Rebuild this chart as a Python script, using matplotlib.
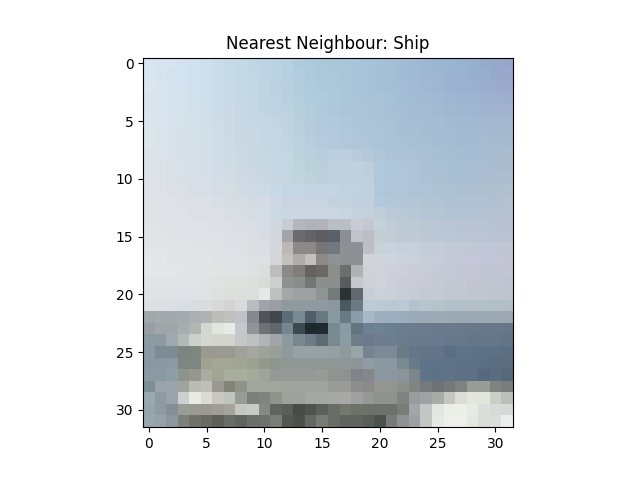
import matplotlib
matplotlib.use("Agg")
import matplotlib.pyplot as plt
import numpy as np

TITLE = "Nearest Neighbour: Ship"

# 32x32 RGB pixels, one string per image row
PIXEL_ROWS = [
    "d8e6f2 d6e4f0 d4e4f0 d2e2ee d0e0ee cedeec cadcea c6dae8 c4d8e6 c0d6e4 bed4e4 bad2e2 b6d0e0 b0ccdc accadc aac8da "
    "a8c8d8 a8c6d8 a8c4d8 a6c2d8 a6c0d8 a4bed6 a2bcd6 a0bad4 9eb8d4 9cb6d2 9ab4d2 98b2d0 96b0ce 96accc 96a8cc 98a6cc",
    "d8e6f2 d6e4f0 d4e2ee d2e2ee d0e0ec cedeec cadcea c8dae8 c4d8e6 c2d6e4 bed4e2 bad2e2 b6d0e0 b2cedc accadc aac8da "
    "aac8d8 a8c6d8 a8c4d8 a8c2d8 a6c0d8 a4bed6 a2bcd6 a0bad4 9eb8d4 9eb6d2 9cb4d2 9ab2d0 98b0ce 98aecc 98aacc 9aa8cc",
    "dae6f0 d8e4f0 d6e2ee d2e2ee d0e0ec cedeea cadce8 c8dae8 c6d8e6 c2d6e4 c0d4e2 bcd2e2 b8d0e0 b2cedc aecadc acc8da "
    "aac8d8 aac6d8 a8c4d8 a8c2d8 a6c0d6 a4bed6 a4bcd6 a2bad4 a0b8d4 9eb6d2 9cb4d2 9ab2d0 9ab2d0 9aaece 9aacce 9caace",
    "dae4ee d8e4ee d6e2ee d4e2ec d0e0ec cedeea ccdce8 c8dae8 c6d8e6 c4d6e4 c0d4e2 bed2e2 bad0e0 b4cede b0ccdc aecadc "
    "acc8da aac6d8 aac4d8 a8c2d8 a8c2d6 a6c0d6 a4bed6 a2bcd4 a2bad4 a0b8d4 9eb6d2 9cb6d2 9cb4d2 9cb2d0 9cb0d0 9eaece",
    "dae4ee d8e4ee d6e2ec d4e2ec d2e0ea d0dee8 ccdce8 cadae6 c8d8e6 c4d6e4 c2d4e2 c0d2e2 bcd2e0 b6d0de b2ccdc b0cadc "
    "aec8da acc6d8 acc4d8 aac4d8 aac2d8 a8c0d6 a6bed6 a4bcd4 a4bcd4 a2bad4 a0b8d2 9eb8d2 9eb6d2 9eb4d0 a0b4d0 a2b2d0",
    "dce4ee dae4ec d8e2ec d6e2ea d4e0ea d0dee8 cedce8 ccdae6 c8d8e6 c6d6e4 c4d6e2 c2d4e2 bed2e0 b8d0de b4ccdc b2cadc "
    "b0cada aec8da acc6d8 acc4d8 aac2d8 a8c2d6 a8c0d6 a6bed4 a6bed4 a4bcd4 a2bad2 a0bad2 a0b8d2 a2b8d0 a2b6d0 a4b6d0",
    "dce4ec dae2ec d8e2ea d6e0ea d4e0e8 d2dee8 d0dce6 ccdae6 cad8e4 c8d8e4 c6d6e2 c4d6e2 c0d4e0 bad0de b6ccdc b4cadc "
    "b2cada b0c8da aec6d8 acc6d8 aac4d8 aac2d6 a8c0d6 a8c0d4 a6bed4 a6bed4 a4bcd4 a2bad2 a2bad2 a4bad2 a4b8d0 a6b8d0",
    "dce4ec dae2ea d8e2ea d6e0e8 d4e0e8 d2dee8 d0dce6 cedce6 cad8e4 c8d8e4 c6d6e2 c4d6e2 c2d4e0 bcd2de b8cedc b6ccdc "
    "b4cada b2c8da b0c6d8 aec6d8 acc4d8 aac4d6 aac2d6 a8c0d4 a8c0d4 a6bed4 a6bed4 a4bcd2 a4bcd2 a6bcd2 a6bad0 a8bad0",
    "dce2ea dae2ea d8e2e8 d6e0e8 d6e0e8 d4dee6 d0dce6 cedce6 ccdae4 cad8e4 c8d8e2 c6d6e2 c4d6e0 bed2de bad0dc b8cedc "
    "bccfe0 bccfde b8ccdc b4c8da aec6d8 acc4d6 acc2d6 aac2d4 aac0d4 a8c0d4 a8bed4 a6bed2 a6bcd2 a8bcd2 a8bcd0 aabcd0",
    "dee2ea dce2e8 dae0e8 d8e0e8 d6dee6 d4dee6 d2dce6 d0dce4 ccdae4 cad8e4 c8d8e2 c6d6e2 c4d6e0 c0d4de bcd0dc bacedc "
    "bed0de c0d0dc c0d0dc bccedc b0c8da aec6d8 aec6d8 aec4d6 aac0d4 aac0d4 a8c0d2 a8bed2 a8bed2 aabed2 aabcd0 acbcd0",
    "dee2e8 dce2e8 dae0e8 d8e0e6 d8dee6 d6dee6 d4dce6 d2dce4 d0dae4 ccd8e4 cad8e2 c8d6e2 c6d6e0 c2d4de bed2dc bcd0dc "
    "bed0de c0d0dc c0d0dc bed0dc b0c8da aec6d8 aec6d8 aec4d6 acc2d4 acc0d2 aac0d2 aac0d2 aabed2 acbed0 acbed0 aebed0",
    "dee2e8 dee2e8 dce0e6 dae0e6 d8dee6 d8dee6 d6dce4 d4dce4 d2dae4 cedae6 ccdae6 c8d8e6 c4d6e6 c4d6e6 c4d4e2 c4d4e2 "
    "c4d4e2 c0d2e0 c0d2de c0d0de b0c8da b0c6d8 aec6d8 aec4d6 aec4d4 aec2d4 acc2d2 acc0d2 acc0d2 aec0d0 aec0d0 b0c0d0",
    "e0e2e6 dee2e6 dee2e6 dce0e6 dae0e6 dae0e6 d8dee4 d6dee4 d4dce4 d2dae4 d4dce6 ccd8e4 c8d4e2 c8d4e2 c8d4e2 c8d4e2 "
    "c4d2e0 c2d2de c2d0de c0d0de b4cadc b2c8d8 b2c6d8 b2c6d6 b0c4d4 b0c4d4 aec2d4 aec2d2 aec2d2 b0c2d2 b0c0d0 b2c2d0",
    "e0e2e6 e0e2e6 dee2e6 dee2e6 dce0e6 dce0e6 dae0e4 d8dee4 d8dee4 d6dce4 d4dce6 ccd8e2 cad6e2 cad6e2 cad6e2 cad6e2 "
    "cad6e2 c8d4e0 c4d2de c4d0de c0ceda bccad8 b8cad8 b6c8d8 b4c6d6 b4c6d4 b2c4d4 b2c4d4 b2c2d2 b2c2d2 b4c2d2 b4c2d0",
    "e0e2e6 e0e2e6 e0e2e6 dee2e6 dee2e6 dee2e6 dce0e6 dce0e6 dadee4 d8dee4 d8dce4 d0d8e0 c8ccd4 b4b8bc b0b4b8 b0b4b8 "
    "b8c0c4 b8c0c4 c8ccd4 c4c8d0 c4d0da c0ccd8 bccad6 bccad6 bac8d4 bac6d4 b8c6d4 b8c4d2 b8c4d2 b8c4d2 b6c2d0 b6c2d0",
    "e2e4e8 e2e4e8 e0e2e6 e0e2e6 e0e2e6 dee2e6 dee2e6 dce0e6 dce0e4 dadee4 d8dce2 d4d8dc a4a4a8 6c6c70 646468 5e5e62 "
    "5c6068 8c9096 c0c4ca bcbec4 c4ccd4 c2ccd6 c0cad6 c0cad4 bec8d4 bcc8d4 bcc6d4 bac6d2 bac4d2 bac4d2 b8c4d2 b8c2d0",
    "e2e4e8 e2e4e8 e2e4e8 e2e4e6 e0e2e6 e0e2e6 e0e2e6 dee2e6 dee0e4 dcdee2 dcdee2 d4d8dc bcb8b4 8c8a88 8c8a88 767474 "
    "727880 8e9094 8e9094 bcc0c4 c8d0d8 c8d2dc c6d0da c6d0da c4ccd8 c4ccd8 c2cad8 c2cad6 c0c8d6 c0c8d6 c0c6d6 c0c6d4",
    "e4e6e8 e4e6e8 e2e4e8 e2e4e8 e2e4e6 e2e4e6 e0e2e6 e0e2e6 e0e2e4 dee0e4 dde0e4 d4d6da c4c0bc b0aca8 c4c0be 8e8a88 "
    "8e9294 8c9092 8c9092 d0d4d8 d0d4da ccd4de ccd2dc cad0dc c8ced8 c6ccd8 c6cad8 c4c8d8 c4c8d8 c2c6d6 c2c6d6 c2c6d4",
    "e4e6e8 e4e6e8 e4e6e8 e2e4e8 e2e4e6 e2e4e6 e2e4e4 e0e2e4 e0e2e4 dee0e2 dcdedc bcbcbc 8c8a88 807e7c 646260 6a6866 "
    "8c8e8c 6c6e6e b0b2b4 d0d2d8 d0d2da cecfd8 ccced8 cacdd8 c8ccd6 c6cad6 c6cad6 c4c8d6 c4c6d6 c2c6d4 c2c6d4 c0c6d2",
    "e2e4e8 e2e4e8 e2e4e6 e2e4e6 e2e4e6 e0e2e4 e0e2e0 dee2de dee0dc dcdedc d8dcd6 ccd0cc 8e928e 8a8e8a 727674 8a8e8c "
    "8a8e8c 585c5c c4c8cc cdd0d6 d0d2da cccfd8 cacdd6 c8ccd6 c8cad4 c6cad4 c4c8d4 c4c8d2 c2c6d2 c2c6d2 c0c6d0 c0c4d0",
    "e0e2e6 e0e2e6 e0e2e6 dee2e6 dee2e4 dee2e2 dee0de dcdedc dcdedc dadedc e4e8e6 bcc0be a2a8a8 9ca2a2 9ca2a2 8e9494 "
    "747c7a 2a3234 606870 c8ced6 ccd0d8 cacfd8 c8ced6 c6ccd6 c4cad4 c4cad2 c2c8d2 c2c8d2 c0c6d0 c0c6d0 bec4d0 bec4ce",
    "dcdfe4 dcdfe4 dcdfe2 d8dee2 d8dde0 dadcde d8d8d6 d4d2d2 d8dadc b8bcc0 a0a4a8 9a9ea2 8e9a9e 8e9a9e 8e9a9e 8e9a9e "
    "8a989c 4a5860 6c7a82 bccad6 bccad6 bac8d4 bccad6 b4c2ce b8c4d0 b6c2cc b4c0ca b4c0ca b4c0ca b4c0c8 b2bec8 b2bec8",
    "a0a8ae a2aaae a2aaae a4aaae aab0b2 aeb2b0 bcbcb8 c0c0bc c0c2c8 848890 505458 40464a 5a6c76 7a8a92 4e5e68 687880 "
    "869aa0 6a7a84 8c9caa a8b8c6 9eb0c0 9eaebe 9caebe 9caab8 9caab8 9ea9b6 9ca8b6 9aa8b4 9aa8b4 9aa8b4 9ca8b4 9aa8b4",
    "98a0a6 9ea6aa 9ea6aa a8aeb0 b0b6b2 d4d6d0 e2e4de e8eae6 c4c8cc 909498 6c7276 60686e 748690 3a4a50 1c2a30 1e2c32 "
    "788a92 8a9aa2 64747e 6c8092 6e8294 6c8092 6a7e90 6a7c8e 6a7c8e 6a7a8c 687a8c 687a8a 687a8a 66788a 66788a 667888",
    "8c9aa2 8c9aa2 9eaab0 b2bab8 ccd0cc d4d6d0 d4d4ce d4d4ce c4c8c6 bcc0be b0b4b4 a0a6a8 8c9aa0 78888e 6e7a84 5e6a74 "
    "7a8a92 8c9ca4 6e7e88 6c7a8c 6c7e90 6c7e90 6a7c8e 687a8c 687a8c 687a8c 66788a 66788a 647688 647688 647688 627486",
    "8a9aa4 7c8c96 7c8c96 7c8482 7e8680 9a9a90 9a9a90 9a9a90 a0a298 a4a8a0 9ea298 98a09a 8e9a9e 96a2a6 96a2a6 96a2a6 "
    "94a0a4 8e9a9c 98a4a8 768490 7a8a96 7a8a96 6a7a86 647688 627486 627486 5c6e84 607286 607286 5e7084 5e7084 5c6e82",
    "8898a2 8898a2 8a9aa2 7e8682 7e8682 a0a290 a4a694 a4a694 a0a690 9aa290 94998a 8e9690 8e9696 8e9696 8e9696 8e9696 "
    "8e9696 8e9898 8c9498 909ca4 8a98a4 8a98a4 7a8890 687a88 5e7288 5e7288 5e7288 5c7086 5e7086 5c6e84 5a6e82 5a6c80",
    "8a9aa4 8a9aa4 8e9ea6 8c948e 969890 aaaca0 a2a494 aaae9c a8ae9c a4aa9a 9ea498 969a96 969a96 969a96 969a96 989c98 "
    "90948e 8e9290 80848a 84888c 8c969e 8c969e 8a949a 7a868c 607488 5e7286 607286 5e7286 5e7084 566a7e 5a6c80 56687a",
    "7c8e96 9aa4aa 9aa4aa a0a4a0 bcbcb4 c0c0b8 9a9a92 828478 8e9288 a2a69c a2a69c a2a69c a0a49e a0a49e a0a49e a0a49e "
    "9a9c98 9a9a98 8e8e8e 8a8a8a 92968e 92968e 8c908a 808482 747a7c 6e7274 747878 808282 9a9c98 9a9c98 808284 7a7c7e",
    "9aa8b0 8e9aa2 9aa2ac ccd0ce e8eae4 dcdcd6 c8c8c0 c0c4bc 969c96 7a807a 7e847e 8e948c 9ea29c 9ea29c a4a8a2 a4a8a2 "
    "a8a8a6 a8a8a6 a0a0a0 969894 8e928a 8e928a 808480 989c9e 9ea2a2 a8aca8 c4c6c2 dcddd6 e4e6de e4e6de cccec8 bcbebc",
    "96a4ae 8e9aa4 888e98 9a9c96 9a9a92 9a9a92 9e9e96 a4a49c c4c8c0 c8ccc4 868a84 5e645e 5a5e58 484c46 50544e 5c605a "
    "6a6c66 747670 6e706a 6e706a 6e706a 6e706a 7a7c78 a4a6a8 c4c6c6 e0e6e2 eceee8 eceee8 e8eae4 dcdeda d8dad8 d8d8d8",
    "98a6ae 96a2aa 8c96a0 7c807a 70726a 6a6a64 5e605a 6a6c66 60645e 6c706a 6e726c 7a7e78 52584e 4c504a 646862 787c76 "
    "6a6c66 606460 606460 5a5e5a 4c524e 787c78 8e9294 9ca0a4 c4c8c4 e6eae6 eeefea eeefea e4e6e0 dadcd6 dcdedc eceeee",
]


def parse_rows(rows):
    pixels = [[[int(h[i:i + 2], 16) for i in (0, 2, 4)] for h in row.split()] for row in rows]
    return np.array(pixels, dtype=np.uint8)


def main():
    image = parse_rows(PIXEL_ROWS)
    fig, ax = plt.subplots(figsize=(6.4, 4.8), dpi=100)
    ax.imshow(image, interpolation="nearest")
    ax.set_title(TITLE)
    fig.savefig("out.png", dpi=100)
    plt.close(fig)


if __name__ == "__main__":
    main()
